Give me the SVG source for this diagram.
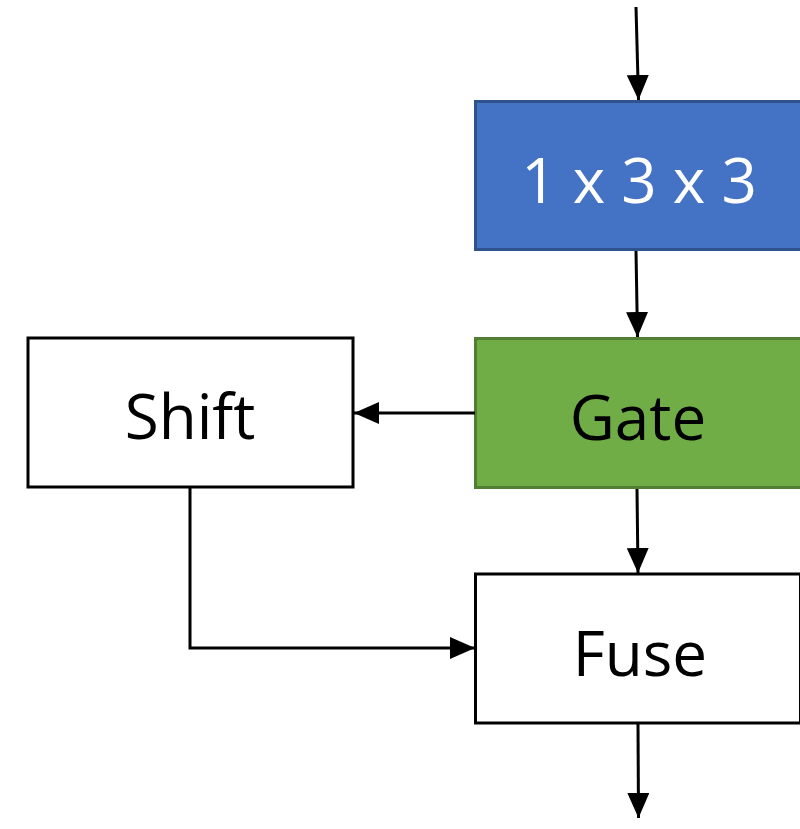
<svg xmlns="http://www.w3.org/2000/svg" width="800" height="829" viewBox="0 0 800 829">
  <style>
    .box { stroke-width: 3; }
    .plain { fill: #ffffff; stroke: #000000; }
    .blue { fill: #4472C4; stroke: #2F528F; }
    .green { fill: #70AD47; stroke: #507E32; }
    .label { font-family: "Open Sans", "Noto Sans", "Liberation Sans", sans-serif; font-size: 62px; text-anchor: middle; }
    .wire { fill: none; stroke: #000000; stroke-width: 3; }
  </style>
  <defs>
    <marker id="arrow" markerUnits="userSpaceOnUse" markerWidth="26" markerHeight="22" refX="25" refY="11" orient="auto">
      <path d="M0,0 L25,11 L0,22 Z" fill="#000000"/>
    </marker>
  </defs>

  <g id="conv">
    <rect class="box blue" x="475.5" y="101.5" width="327" height="148"/>
    <text class="label" x="639" y="203" fill="#ffffff">1 x 3 x 3</text>
  </g>

  <g id="gate">
    <rect class="box green" x="475.5" y="338.5" width="327" height="149"/>
    <text class="label" x="638" y="440" fill="#000000">Gate</text>
  </g>

  <g id="shift">
    <rect class="box plain" x="28" y="338" width="325" height="149"/>
    <text class="label" x="190" y="439" fill="#000000">Shift</text>
  </g>

  <g id="fuse">
    <rect class="box plain" x="475.5" y="574" width="325" height="149"/>
    <text class="label" x="640" y="676" fill="#000000">Fuse</text>
  </g>

  <g id="connectors">
    <line class="wire" x1="636" y1="7" x2="638.5" y2="100" marker-end="url(#arrow)"/>
    <line class="wire" x1="636" y1="251" x2="637.5" y2="337" marker-end="url(#arrow)"/>
    <line class="wire" x1="637" y1="489" x2="638" y2="573" marker-end="url(#arrow)"/>
    <line class="wire" x1="638" y1="724" x2="638.5" y2="818" marker-end="url(#arrow)"/>
    <line class="wire" x1="475" y1="413" x2="354" y2="413" marker-end="url(#arrow)"/>
    <polyline class="wire" points="190,488 190,648 475,648" marker-end="url(#arrow)"/>
  </g>
</svg>
